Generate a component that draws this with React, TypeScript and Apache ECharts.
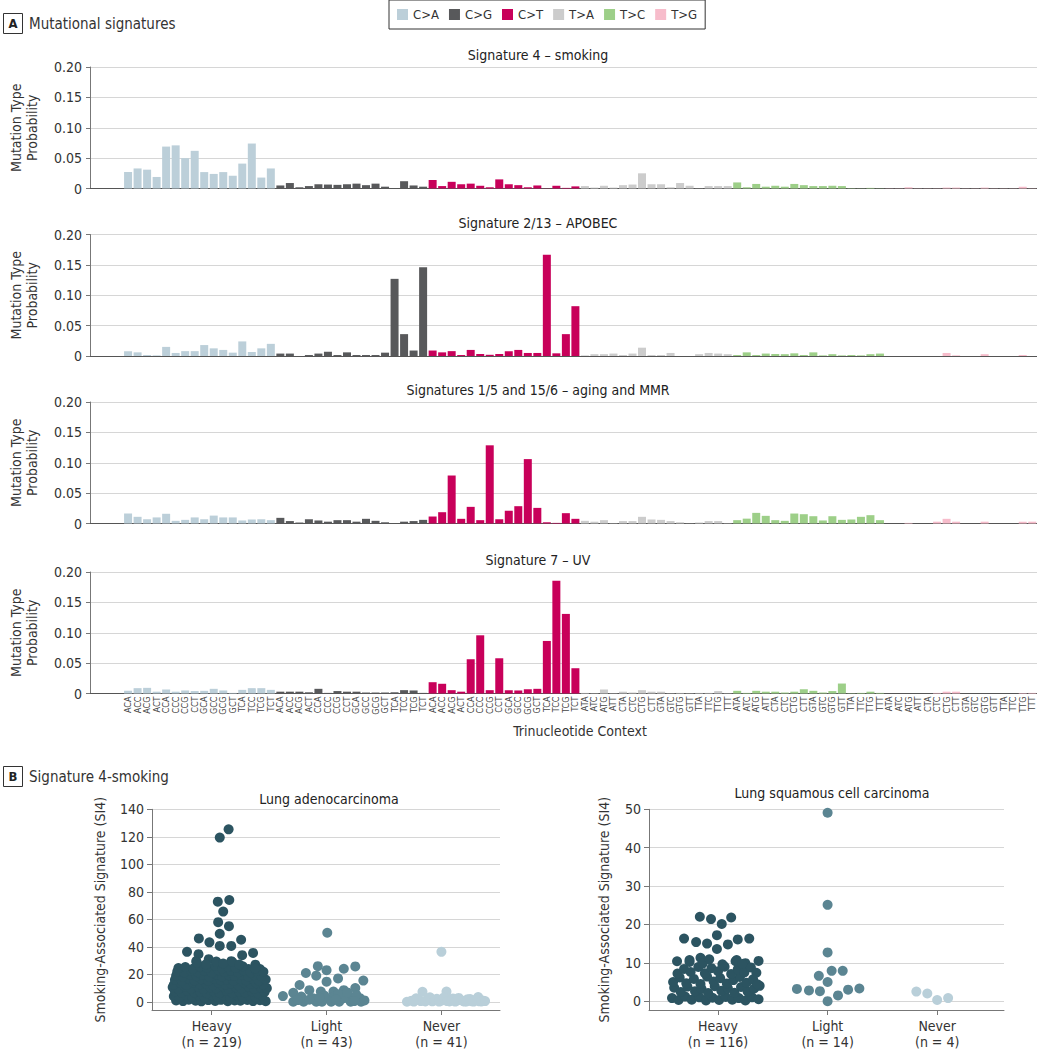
import React, { useEffect, useRef } from "react";
import * as echarts from "echarts";

const FONT = '"Liberation Sans Narrow", "DejaVu Sans Condensed", "Roboto Condensed", Roboto, sans-serif';

// ---------- Panel A data ----------
const mutationTypes = ["C>A", "C>G", "C>T", "T>A", "T>C", "T>G"];
const mutationColors = ["#bccfd9", "#58595b", "#c8005a", "#cccccc", "#9dcf88", "#f7bccb"];
const cContexts = ["ACA","ACC","ACG","ACT","CCA","CCC","CCG","CCT","GCA","GCC","GCG","GCT","TCA","TCC","TCG","TCT"];
const tContexts = ["ATA","ATC","ATG","ATT","CTA","CTC","CTG","CTT","GTA","GTC","GTG","GTT","TTA","TTC","TTG","TTT"];
const contextLabels = [...cContexts, ...cContexts, ...cContexts, ...tContexts, ...tContexts, ...tContexts];

const panelTitles = ["Signature 4 – smoking", "Signature 2/13 – APOBEC", "Signatures 1/5 and 15/6 – aging and MMR", "Signature 7 – UV"];

const sigSmoking = [
  0.027,0.033,0.031,0.019,0.069,0.071,0.050,0.062,0.027,0.024,0.027,0.021,0.041,0.074,0.018,0.033,
  0.005,0.009,0.002,0.004,0.007,0.0065,0.006,0.007,0.008,0.0055,0.008,0.003,0.0005,0.012,0.005,0.003,
  0.014,0.004,0.011,0.007,0.008,0.0045,0.002,0.015,0.007,0.0055,0.002,0.005,0.0003,0.0045,0.001,0.0035,
  0.004,0.0015,0.0045,0.0015,0.0055,0.0065,0.025,0.007,0.007,0.002,0.009,0.0045,0.0003,0.004,0.004,0.004,
  0.010,0.002,0.0075,0.003,0.0045,0.003,0.0075,0.0055,0.004,0.004,0.0045,0.004,0.0005,0.0003,0.001,0.0003,
  0.0003,0.0003,0.002,0.0003,0.0003,0.0003,0.0015,0.0015,0.0003,0.0003,0.0015,0.0003,0.0003,0.0003,0.003,0.0003,
];
const sigApobec = [
  0.008,0.006,0.0016,0.001,0.015,0.005,0.008,0.008,0.018,0.0126,0.010,0.0055,0.024,0.0066,0.0126,0.020,
  0.004,0.004,0,0.0016,0.004,0.007,0.0016,0.006,0.0016,0.0016,0.0016,0.0055,0.127,0.036,0.009,0.146,
  0.009,0.006,0.008,0.0016,0.010,0.0033,0.002,0.0033,0.008,0.010,0.005,0.005,0.1666,0.0044,0.036,0.082,
  0.001,0.003,0.003,0.004,0.0016,0.004,0.0137,0.0016,0.0016,0.005,0,0,0.003,0.005,0.004,0.003,
  0.0016,0.006,0.0016,0.004,0.0033,0.003,0.0044,0.0016,0.006,0.001,0.003,0.001,0.0016,0.001,0.003,0.004,
  0,0,0,0,0,0,0.005,0.001,0,0,0.003,0,0,0,0.0016,0,
];
const sigAgingMMR = [
  0.0165,0.011,0.007,0.010,0.016,0.0044,0.006,0.010,0.007,0.013,0.010,0.010,0.005,0.0066,0.007,0.0055,
  0.0093,0.004,0.0016,0.007,0.005,0.003,0.0055,0.0055,0.003,0.0077,0.0044,0.002,0.0005,0.003,0.004,0.006,
  0.0115,0.0186,0.079,0.0077,0.0274,0.0055,0.1287,0.007,0.0208,0.0285,0.106,0.0257,0.002,0.001,0.017,0.0077,
  0.0044,0.003,0.0055,0.0005,0.004,0.004,0.011,0.0066,0.006,0.004,0.002,0.0003,0.0016,0.004,0.004,0.0005,
  0.0055,0.008,0.0175,0.0126,0.0055,0.0044,0.0164,0.0153,0.012,0.005,0.012,0.006,0.0066,0.011,0.0137,0.0055,
  0,0,0.001,0,0,0.003,0.0077,0.003,0,0,0.003,0,0,0,0.003,0.003,
];
const sigUV = [
  0.0044,0.0088,0.0093,0.003,0.0066,0.003,0.005,0.004,0.0044,0.0077,0.005,0.001,0.006,0.0088,0.0088,0.006,
  0.003,0.003,0.003,0.002,0.0077,0.001,0.004,0.003,0.003,0.0016,0.0016,0.0016,0.002,0.0055,0.005,0.001,
  0.0186,0.016,0.0055,0.003,0.0564,0.0958,0.0055,0.058,0.0055,0.005,0.007,0.0077,0.0865,0.1857,0.131,0.0416,
  0.001,0.0005,0.0066,0.0005,0.003,0.0016,0.0055,0.003,0.003,0.0005,0.001,0.0005,0.001,0.001,0.004,0.0005,
  0.0044,0.001,0.0044,0.003,0.003,0.0016,0.003,0.007,0.0044,0.0016,0.004,0.0164,0.0005,0.001,0.003,0.001,
  0,0,0,0,0,0.001,0.003,0.003,0,0,0,0,0,0,0.001,0.001,
];
const signatures = [sigSmoking, sigApobec, sigAgingMMR, sigUV];

// ---------- Panel B data ----------
const smokingGroups = ["Heavy", "Light", "Never"];
const groupColors = ["#2c5461", "#5b8592", "#b9cfd9"];
const adenoCounts = [219, 43, 41];
const squamousCounts = [116, 14, 4];
const adenoTicks = [0, 20, 40, 60, 80, 100, 120, 140];
const squamousTicks = [0, 10, 20, 30, 40, 50];

// [horizontal jitter, SI4 value]
const adenoHeavy = [
  [0.147,125.4],[0.07,119.4],[0.053,72.8],[0.153,74],[0.1,65.6],[0.056,57.9],[0.15,55],[0.07,49.5],
  [-0.112,46.1],[-0.02,43.2],[0.07,40.6],[0.17,40.6],[0.256,45.1],[-0.215,36.3],[-0.115,34.6],[0.265,33.9],
  [0.36,35.5],[-0.026,31],[-0.135,29.5],[0.17,29.5],[0.38,27],[0.32,23.8],[0.42,23.8],
  [-0.31,1],[-0.25,0.5],[-0.2,1.5],[-0.14,0.8],[-0.09,0.3],[-0.03,1.2],[0.03,0.6],[0.08,1.4],[0.14,0.4],[0.2,1],[0.25,0.7],[0.31,1.3],[0.36,0.5],[0.42,1.1],[0.47,0.4],
  [-0.33,4],[-0.28,3.2],[-0.22,4.6],[-0.17,3.5],[-0.11,4.2],[-0.06,3],[0,4.8],[0.05,3.6],[0.11,4.4],[0.16,3.1],[0.22,4.7],[0.27,3.4],[0.33,4.1],[0.38,3.3],[0.44,4.5],
  [-0.32,7.5],[-0.26,6.4],[-0.21,7.8],[-0.15,6.8],[-0.1,7.2],[-0.04,6.1],[0.02,7.6],[0.07,6.5],[0.13,7.9],[0.18,6.3],[0.24,7.4],[0.29,6.7],[0.35,7.7],[0.4,6.2],[0.46,7.1],
  [-0.34,10.5],[-0.29,9.4],[-0.23,10.8],[-0.18,9.6],[-0.12,11],[-0.07,9.2],[-0.01,10.4],[0.04,9.8],[0.1,11.2],[0.15,9.3],[0.21,10.6],[0.26,9.7],[0.32,11.1],[0.37,9.5],[0.43,10.2],[0.48,9.9],
  [-0.33,12.4],[-0.27,13.6],[-0.22,12.2],[-0.16,14],[-0.1,12.8],[-0.05,13.4],[0.01,12.1],[0.06,13.9],[0.12,12.6],[0.17,13.3],[0.23,12.3],[0.28,14.1],[0.34,12.9],[0.39,13.5],[0.45,12.5],
  [-0.32,16],[-0.26,15.2],[-0.2,16.8],[-0.15,15.5],[-0.09,16.4],[-0.03,15.1],[0.02,16.9],[0.08,15.7],[0.13,16.2],[0.19,15.3],[0.25,16.7],[0.3,15.6],[0.36,16.5],[0.41,15.4],[0.47,16.1],
  [-0.31,19],[-0.25,18.3],[-0.19,19.8],[-0.13,18.6],[-0.08,19.5],[-0.02,18.1],[0.04,19.9],[0.09,18.4],[0.15,19.3],[0.2,18.8],[0.26,19.7],[0.32,18.2],[0.37,19.4],[0.43,18.7],
  [-0.3,22],[-0.24,21.3],[-0.18,22.8],[-0.12,21.5],[-0.06,22.4],[0,21.1],[0.06,23],[0.11,21.7],[0.17,22.6],[0.23,21.4],[0.28,22.9],[0.34,21.2],[0.39,22.3],[0.45,21.8],
  [-0.29,24.5],[-0.23,25.2],[-0.16,24.1],[-0.1,25.6],[-0.04,24.8],[0.03,26],[0.09,24.3],[0.14,25.4],[0.21,24.6],[0.27,25.8],[0.38,24.2],
  [-0.13,28.5],[-0.05,27.3],[0.04,29.2],[0.1,27.8],[0.18,28.9],[0.24,27.1],
];
const adenoLight = [
  [-0.38,4.1],[-0.29,6.5],[-0.29,0],[-0.22,3.8],[-0.2,0],[-0.235,12.2],[-0.18,20.9],[-0.15,8.4],[-0.09,19],[-0.076,25.9],
  [0,23],[0,14.6],[0.006,50.2],[0.1,17],[0.15,24],[0.25,25.7],[0.32,15.4],[0.25,10],[0.15,8.4],[0.06,7.4],
  [-0.05,7.4],[-0.12,2.6],[-0.09,0],[0,2.6],[0.11,0],[0.2,2.6],[0.29,2.6],[0.3,0],[0.065,3.8],[0.21,0],
  [-0.04,0],[0.15,2.6],[0.26,5],[0.04,0],[-0.15,1.5],[0.1,5.5],[-0.02,4.5],[0.18,6.8],[0.33,1],[-0.25,1.2],
  [0.08,1.8],[-0.06,3],[0.24,0.5],
];
const adenoNever = [
  [0,36.3],[-0.3,0],[-0.165,7.2],[0.044,7.4],[0.32,3.4],[-0.22,2.5],[-0.18,0.5],[-0.12,1.8],[-0.08,0.3],[-0.04,2.2],
  [0,0.8],[0.03,1.5],[0.07,0.2],[0.1,2.4],[0.13,0.6],[0.17,1.2],[0.2,0.1],[0.23,1.9],[0.26,0.4],[0.29,1.1],
  [0.33,0.3],[0.36,0.9],[-0.26,0.8],[-0.2,1.4],[-0.14,0.2],[-0.1,3.2],[-0.06,1],[-0.02,0.1],[0.02,3],[0.05,0.5],
  [0.09,1.1],[0.12,0.1],[0.15,2.8],[0.19,0.5],[0.22,0.2],[0.25,2],[0.28,0.1],[0.31,1.6],[0.35,0.2],[-0.24,0.1],[0.38,0.5],
];
const squamousHeavy = [
  [-0.166,22],[-0.064,21.4],[0.034,20.1],[0.12,21.8],[-0.31,16.3],[-0.2,15.4],[-0.1,15],[-0.01,17.2],[0.09,14.8],[0.18,16.1],
  [0.285,16.3],[-0.01,13.6],[-0.374,10.4],[-0.26,10.7],[-0.16,11.3],[0.37,10.5],[0.17,10.7],[0.25,9.9],
  [-0.42,0.8],[-0.36,0.3],[-0.3,1.2],[-0.24,0.4],[-0.17,1],[-0.11,0.2],[-0.05,0.9],[0.01,0.3],[0.07,1.1],[0.13,0.4],[0.19,0.8],[0.25,0.2],[0.31,1],[0.37,0.5],
  [-0.4,3.5],[-0.34,2.4],[-0.28,3.8],[-0.21,2.6],[-0.15,3.2],[-0.09,2.1],[-0.03,3.9],[0.03,2.7],[0.09,3.4],[0.15,2.2],[0.21,3.7],[0.27,2.5],[0.33,3.3],[0.38,4],
  [-0.41,5],[-0.35,6.2],[-0.29,4.7],[-0.22,5.8],[-0.16,4.5],[-0.1,6.4],[-0.04,5.1],[0.02,6],[0.08,4.6],[0.14,5.5],[0.2,6.3],[0.26,4.8],[0.32,5.7],[0.36,4.4],
  [-0.37,7.2],[-0.31,8.4],[-0.25,7.6],[-0.18,8.9],[-0.12,7.3],[-0.06,8.6],[0,7.8],[0.06,9],[0.12,7.1],[0.18,8.3],[0.24,7.5],[0.3,8.8],[0.35,7.4],
  [-0.26,10.2],[-0.14,9.8],[-0.08,10.9],[0.04,9.6],[0.16,10.4],[0.22,9.7],
];
const squamousLight = [
  [0,49.1],[0,25.1],[0,12.7],[-0.08,6.6],[0.037,7.9],[0.138,7.9],[0,5],[-0.28,3.2],[-0.17,2.8],[-0.07,2.6],
  [0.187,3],[0.29,3.3],[0.095,1.5],[0,0],
];
const squamousNever = [[-0.19,2.5],[-0.09,2],[0,0.3],[0.1,0.8]];

const barGridTops = [67, 234.5, 402, 572];
const BAR_GRID_H = 121.5;
const titleYs = [55, 223, 390, 560];

export default function App() {
  const ref = useRef<HTMLDivElement>(null);

  useEffect(() => {
    document.body.style.margin = "0";
    const chart = echarts.init(ref.current!, null, { renderer: "svg" });

    const grids: any[] = [];
    const xAxes: any[] = [];
    const yAxes: any[] = [];
    const series: any[] = [];

    signatures.forEach((sig, p) => {
      grids.push({ left: 88, width: 949, top: barGridTops[p], height: BAR_GRID_H });
      const isLast = p === signatures.length - 1;
      xAxes.push({
        type: "value",
        gridIndex: p,
        min: -4,
        max: 95.5,
        interval: 1,
        splitLine: { show: false },
        axisTick: { show: false },
        axisLine: { show: true, onZero: false, lineStyle: { color: "#555", width: 1 } },
        axisLabel: {
          show: isLast,
          rotate: 90,
          fontSize: 9,
          color: "#444",
          margin: 3,
          fontFamily: FONT,
          formatter: (v: number) =>
            Number.isInteger(v) && v >= 0 && v < contextLabels.length ? contextLabels[v] : "",
        },
      });
      yAxes.push({
        type: "value",
        gridIndex: p,
        min: 0,
        max: 0.2,
        interval: 0.05,
        name: "Mutation Type\nProbability",
        nameLocation: "middle",
        nameGap: 50,
        nameTextStyle: { fontSize: 14, lineHeight: 16, color: "#333", fontFamily: FONT },
        axisLine: { show: true, onZero: false, lineStyle: { color: "#777" } },
        axisTick: { show: true, length: 4, lineStyle: { color: "#777" } },
        axisLabel: {
          fontSize: 14,
          color: "#333",
          margin: 8,
          fontFamily: FONT,
          formatter: (v: number) => (v === 0 ? "0" : v.toFixed(2)),
        },
        splitLine: { show: true, lineStyle: { color: "#d6d6d6", width: 1 } },
      });
      mutationTypes.forEach((mt, g) => {
        series.push({
          type: "bar",
          name: mt,
          xAxisIndex: p,
          yAxisIndex: p,
          stack: "panel" + p,
          barWidth: 8,
          silent: true,
          itemStyle: { color: mutationColors[g] },
          data: sig.slice(g * 16, g * 16 + 16).map((v, k) => [g * 16 + k, v]),
        });
      });
    });

    const scatterPanels = [
      {
        left: 152, width: 348, xMin: -0.52, xMax: 2.51, yMin: -6, yMax: 140, ticks: adenoTicks,
        counts: adenoCounts, data: [adenoHeavy, adenoLight, adenoNever], nameGap: 45,
      },
      {
        left: 649, width: 355, xMin: -0.63, xMax: 2.61, yMin: -2.3, yMax: 50, ticks: squamousTicks,
        counts: squamousCounts, data: [squamousHeavy, squamousLight, squamousNever], nameGap: 38,
      },
    ];
    scatterPanels.forEach((sp, i) => {
      const gi = 4 + i;
      grids.push({ left: sp.left, width: sp.width, top: 809.3, height: 202.7 });
      xAxes.push({
        type: "value",
        gridIndex: gi,
        min: sp.xMin,
        max: sp.xMax,
        splitLine: { show: false },
        axisLine: { show: true, onZero: false, lineStyle: { color: "#777" } },
        axisTick: { show: true, length: 5, customValues: [0, 1, 2], lineStyle: { color: "#777" } },
        axisLabel: {
          customValues: [0, 1, 2],
          fontSize: 14,
          lineHeight: 16,
          color: "#333",
          margin: 8,
          fontFamily: FONT,
          formatter: (v: number) => {
            const k = Math.round(v);
            return smokingGroups[k] + "\n(n = " + sp.counts[k] + ")";
          },
        },
      });
      yAxes.push({
        type: "value",
        gridIndex: gi,
        min: sp.yMin,
        max: sp.yMax,
        name: "Smoking-Associated Signature (SI4)",
        nameLocation: "middle",
        nameGap: sp.nameGap,
        nameTextStyle: { fontSize: 14, color: "#333", fontFamily: FONT },
        axisLine: { show: true, onZero: false, lineStyle: { color: "#777" } },
        axisTick: { show: true, length: 5, customValues: sp.ticks, lineStyle: { color: "#777" } },
        axisLabel: { customValues: sp.ticks, fontSize: 14, color: "#333", margin: 8, fontFamily: FONT },
        splitLine: { show: true, lineStyle: { color: "#d6d6d6", width: 1 } },
      });
      sp.data.forEach((pts, g) => {
        series.push({
          type: "scatter",
          name: smokingGroups[g] + i,
          xAxisIndex: gi,
          yAxisIndex: gi,
          symbolSize: 10,
          silent: true,
          itemStyle: { color: groupColors[g], opacity: 1 },
          data: pts.map(([dx, v]) => [g + dx, v]),
        });
      });
    });

    const graphics: any[] = [
      { type: "rect", shape: { x: 3.5, y: 13.5, width: 19, height: 20 }, style: { fill: "#fff", stroke: "#333", lineWidth: 1 } },
      { type: "text", x: 13, y: 23.5, style: { text: "A", fontSize: 13, fontWeight: "bold", fill: "#222", align: "center", verticalAlign: "middle", fontFamily: FONT } },
      { type: "text", x: 29, y: 23.5, style: { text: "Mutational signatures", fontSize: 15, fill: "#333", verticalAlign: "middle", fontFamily: FONT } },
      { type: "rect", shape: { x: 3.5, y: 766.5, width: 19, height: 20 }, style: { fill: "#fff", stroke: "#333", lineWidth: 1 } },
      { type: "text", x: 13, y: 776.5, style: { text: "B", fontSize: 13, fontWeight: "bold", fill: "#222", align: "center", verticalAlign: "middle", fontFamily: FONT } },
      { type: "text", x: 29, y: 776.5, style: { text: "Signature 4-smoking", fontSize: 15, fill: "#333", verticalAlign: "middle", fontFamily: FONT } },
      { type: "text", x: 580, y: 731, style: { text: "Trinucleotide Context", fontSize: 14, fill: "#333", align: "center", verticalAlign: "middle", fontFamily: FONT } },
      { type: "text", x: 329, y: 799, style: { text: "Lung adenocarcinoma", fontSize: 14, fontWeight: 500, fill: "#222", align: "center", verticalAlign: "middle", fontFamily: FONT } },
      { type: "text", x: 832, y: 793, style: { text: "Lung squamous cell carcinoma", fontSize: 14, fontWeight: 500, fill: "#222", align: "center", verticalAlign: "middle", fontFamily: FONT } },
      ...panelTitles.map((t, p) => ({
        type: "text", x: 538, y: titleYs[p],
        style: { text: t, fontSize: 14, fontWeight: 500, fill: "#222", align: "center", verticalAlign: "middle", fontFamily: FONT },
      })),
    ];

    chart.setOption({
      animation: false,
      textStyle: { fontFamily: FONT },
      legend: {
        data: mutationTypes,
        left: 389,
        top: 0,
        orient: "horizontal",
        icon: "rect",
        itemWidth: 11,
        itemHeight: 11,
        itemGap: 10,
        padding: [8, 8, 8, 8],
        borderColor: "#333",
        borderWidth: 1,
        selectedMode: false,
        textStyle: { fontSize: 13, color: "#333", fontFamily: FONT },
      },
      grid: grids,
      xAxis: xAxes,
      yAxis: yAxes,
      series,
      graphic: graphics,
    });

    return () => chart.dispose();
  }, []);

  return <div ref={ref} style={{ position: "absolute", left: 0, top: 0, width: 1037, height: 1050 }} />;
}
